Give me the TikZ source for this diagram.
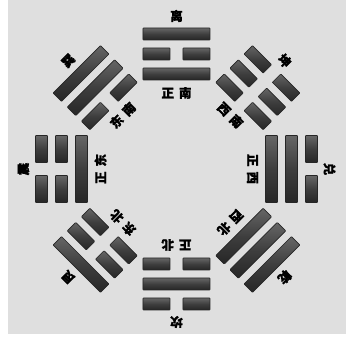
\documentclass[tikz,border=0pt]{standalone}
\usepackage{fontspec}
\newfontfamily\cjk[FakeBold=1.2]{Noto Sans CJK SC}
\definecolor{bggray}{HTML}{DFDFDF}
\definecolor{bardark}{HTML}{262626}
\definecolor{barmid}{HTML}{3E3E3E}
\definecolor{barlight}{HTML}{666666}
\newcommand\myyao[2]{%
  \ifnum#2=1
    \draw[yaobar] (-33.5,#1-6) rectangle (33.5,#1+6);
  \else
    \draw[yaobar] (-33.5,#1-6) rectangle (-6.5,#1+6);
    \draw[yaobar] (6.5,#1-6) rectangle (33.5,#1+6);
  \fi}
\newcommand\mygua[7]{%
  \begin{scope}[rotate=#1-90]
    \myyao{95}{#2}\myyao{115}{#3}\myyao{135}{#4}
    \node[gualabel] (in#7) at (0,76) {#5};
    \node[gualabel] (out#7) at (0,153) {#6};
  \end{scope}}
\begin{document}
\begin{tikzpicture}[x=1pt,y=1pt,
  yaobar/.style={draw=black!85, line width=0.6pt, top color=barlight, bottom color=bardark, middle color=barmid, rounded corners=0.6pt},
  gualabel/.style={font=\cjk\bfseries\fontsize{12.5}{13}\selectfont, text=black, inner sep=0pt, transform shape}]
\useasboundingbox (-176.5,-168) rectangle (169.5,169);
\fill[white] (-176.5,-168) rectangle (169.5,169);
\fill[bggray] (-168.5,-165) rectangle (169.5,169);
\mygua{90}{1}{0}{1}{正\kern5pt南}{离}{S}
\mygua{45}{0}{0}{0}{西\kern5pt南}{坤}{SW}
\mygua{0}{1}{1}{0}{正\kern5pt西}{兑}{W}
\mygua{-45}{1}{1}{1}{西\kern5pt北}{乾}{NW}
\mygua{-90}{0}{1}{0}{正\kern5pt北}{坎}{N}
\mygua{-135}{0}{0}{1}{东\kern5pt北}{艮}{NE}
\mygua{180}{1}{0}{0}{正\kern5pt东}{震}{E}
\mygua{135}{0}{1}{1}{东\kern5pt南}{巽}{SE}
\end{tikzpicture}
\end{document}
